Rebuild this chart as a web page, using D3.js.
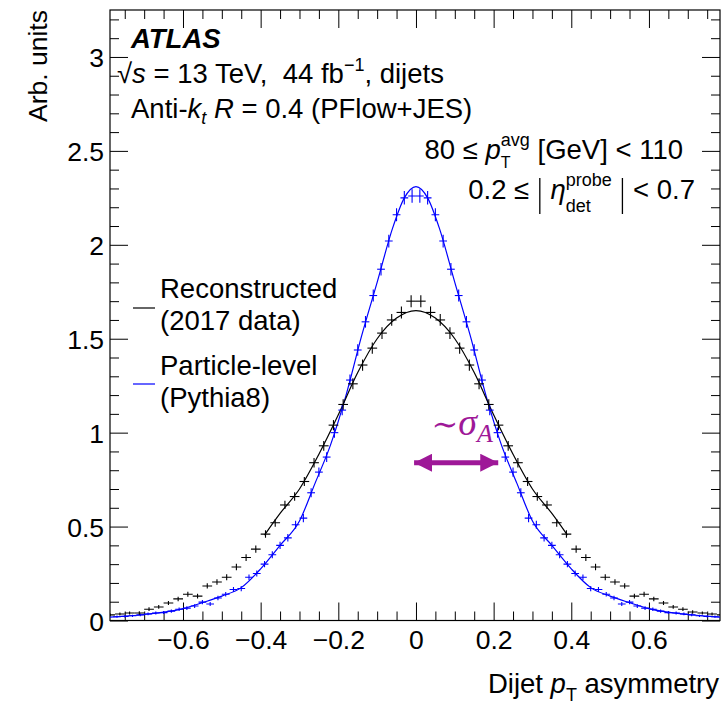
<!DOCTYPE html>
<html>
<head>
  <script src="https://d3js.org/d3.v7.min.js"></script>
  <style>
    body { margin: 0; background: #fff; }
    text { font-family: "Liberation Sans", Arial, Helvetica, sans-serif; fill: #000; white-space: pre; }
  </style>
</head>
<body>
  <div id="chart"></div>
  <script>
    // Reconstructed (2017 data): bin centres, values, vertical errors
    const recoBinWidth = 0.025;
    const recoX = [-0.7875,-0.7625,-0.7375,-0.7125,-0.6875,-0.6625,-0.6375,-0.6125,-0.5875,-0.5625,-0.5375,-0.5125,-0.4875,-0.4625,-0.4375,-0.4125,-0.3875,-0.3625,-0.3375,-0.3125,-0.2875,-0.2625,-0.2375,-0.2125,-0.1875,-0.1625,-0.1375,-0.1125,-0.0875,-0.0625,-0.0375,-0.0125,
      0.0125,0.0375,0.0625,0.0875,0.1125,0.1375,0.1625,0.1875,0.2125,0.2375,0.2625,0.2875,0.3125,0.3375,0.3625,0.3875,0.4125,0.4375,0.4625,0.4875,0.5125,0.5375,0.5625,0.5875,0.6125,0.6375,0.6625,0.6875,0.7125,0.7375,0.7625,0.7875];
    const recoY = [0.03,0.035,0.04,0.04,0.06,0.072,0.093,0.115,0.14,0.13,0.184,0.205,0.23,0.285,0.335,0.38,0.46,0.52,0.615,0.66,0.74,0.84,0.93,1.04,1.15,1.26,1.36,1.45,1.53,1.60,1.64,1.70,
      1.70,1.64,1.60,1.53,1.45,1.36,1.26,1.15,1.04,0.93,0.84,0.74,0.66,0.615,0.52,0.46,0.38,0.335,0.285,0.23,0.205,0.184,0.13,0.14,0.115,0.093,0.072,0.06,0.045,0.04,0.035,0.03];
    const recoErr = [0.007,0.008,0.008,0.009,0.010,0.010,0.011,0.012,0.013,0.013,0.014,0.015,0.016,0.017,0.018,0.019,0.020,0.021,0.022,0.023,0.024,0.025,0.026,0.027,0.028,0.029,0.030,0.030,0.031,0.031,0.032,0.032,
      0.032,0.032,0.031,0.031,0.030,0.030,0.029,0.028,0.027,0.026,0.025,0.024,0.023,0.022,0.021,0.020,0.019,0.018,0.017,0.016,0.015,0.014,0.013,0.013,0.012,0.011,0.010,0.010,0.009,0.008,0.008,0.007];

    // Particle-level (Pythia8)
    const truthBinWidth = 0.02;
    const truthX = [-0.77,-0.75,-0.73,-0.71,-0.69,-0.67,-0.65,-0.63,-0.61,-0.59,-0.57,-0.55,-0.53,-0.51,-0.49,-0.47,-0.45,-0.43,-0.41,-0.39,-0.37,-0.35,-0.33,-0.31,-0.29,-0.27,-0.25,-0.23,-0.21,-0.19,-0.17,-0.15,-0.13,-0.11,-0.09,-0.07,-0.05,-0.03,-0.01,
      0.01,0.03,0.05,0.07,0.09,0.11,0.13,0.15,0.17,0.19,0.21,0.23,0.25,0.27,0.29,0.31,0.33,0.35,0.37,0.39,0.41,0.43,0.45,0.47,0.49,0.51,0.53,0.55,0.57,0.59,0.61,0.63,0.65,0.67,0.69,0.71,0.73,0.75,0.77];
    const truthY = [0.02,0.022,0.025,0.03,0.035,0.04,0.042,0.05,0.06,0.066,0.077,0.098,0.088,0.12,0.14,0.165,0.17,0.23,0.25,0.30,0.35,0.40,0.44,0.51,0.545,0.68,0.79,0.87,1.00,1.12,1.28,1.44,1.59,1.73,1.87,2.02,2.16,2.25,2.26,
      2.26,2.25,2.16,2.02,1.87,1.73,1.59,1.44,1.28,1.12,1.00,0.87,0.79,0.68,0.545,0.51,0.44,0.40,0.35,0.30,0.25,0.23,0.17,0.165,0.14,0.12,0.088,0.098,0.077,0.066,0.06,0.05,0.042,0.04,0.035,0.03,0.025,0.022,0.02];
    const truthErr = [0.006,0.006,0.006,0.007,0.007,0.008,0.008,0.009,0.009,0.010,0.010,0.011,0.011,0.012,0.012,0.013,0.014,0.015,0.016,0.017,0.018,0.019,0.020,0.021,0.022,0.024,0.025,0.026,0.027,0.028,0.029,0.030,0.031,0.032,0.033,0.034,0.035,0.036,0.036,
      0.036,0.036,0.035,0.034,0.033,0.032,0.031,0.030,0.029,0.028,0.027,0.026,0.025,0.024,0.022,0.021,0.020,0.019,0.018,0.017,0.016,0.015,0.014,0.013,0.012,0.012,0.011,0.011,0.010,0.010,0.009,0.009,0.008,0.008,0.007,0.007,0.006,0.006,0.006];

    // Fit curves
    const recoFitX = [-0.39,-0.35,-0.3,-0.25,-0.2,-0.15,-0.1,-0.05,0,0.05,0.1,0.15,0.2,0.25,0.3,0.35,0.39];
    const recoFitY = [0.455,0.57,0.70,0.885,1.095,1.32,1.50,1.61,1.65,1.61,1.50,1.32,1.095,0.885,0.70,0.57,0.455];
    const truthFitX = [-0.788,-0.7,-0.6,-0.55,-0.5,-0.45,-0.4,-0.35,-0.3,-0.26,-0.22,-0.18,-0.14,-0.1,-0.06,-0.03,0,0.03,0.06,0.1,0.14,0.18,0.22,0.26,0.3,0.35,0.4,0.45,0.5,0.55,0.6,0.7,0.783];
    const truthFitY = [0.018,0.032,0.063,0.095,0.13,0.175,0.275,0.40,0.53,0.73,0.935,1.20,1.515,1.80,2.09,2.25,2.31,2.25,2.09,1.80,1.515,1.20,0.935,0.73,0.53,0.40,0.275,0.175,0.13,0.095,0.063,0.032,0.018];

    // Axes
    const xDomain = [-0.788, 0.783];
    const yDomain = [0, 3.25];
    const xTickValues = [-0.6, -0.4, -0.2, 0, 0.2, 0.4, 0.6];
    const xTickLabels = ["\u22120.6", "\u22120.4", "\u22120.2", "0", "0.2", "0.4", "0.6"];
    const yTickValues = [0, 0.5, 1, 1.5, 2, 2.5, 3];
    const yTickLabels = ["0", "0.5", "1", "1.5", "2", "2.5", "3"];
    const legendLabels = [["Reconstructed", "(2017 data)"], ["Particle-level", "(Pythia8)"]];
    const legendColors = ["#000", "#0000ff"];
    const arrowSpan = [-0.01, 0.217];
    const arrowLevel = 0.84;

    const W = 725, H = 711;
    const plot = { left: 110, right: 720, top: 10, bottom: 620.5 };
    const accent = "#9e1898";
    const fs = 27.5;

    const svg = d3.select("#chart").append("svg")
      .attr("width", W).attr("height", H)
      .style("background", "#fff");

    const x = d3.scaleLinear().domain(xDomain).range([plot.left, plot.right]);
    const y = d3.scaleLinear().domain(yDomain).range([plot.bottom, plot.top]);

    svg.append("clipPath").attr("id", "clip")
      .append("rect")
      .attr("x", plot.left).attr("y", plot.top)
      .attr("width", plot.right - plot.left).attr("height", plot.bottom - plot.top);

    const xMinor = d3.range(-0.75, 0.76, 0.05).filter(v => Math.abs(Math.round(v * 100) % 20) !== 0);
    const yMinor = d3.range(0.1, 3.25, 0.1).filter(v => Math.abs(Math.round(v * 10) % 5) !== 0);

    function tickAxis(axis, pos, values, size, labels, pad) {
      const g = svg.append("g")
        .attr("transform", pos)
        .call(axis.tickValues(values).tickSizeInner(-size).tickSizeOuter(0)
          .tickPadding(pad || 0)
          .tickFormat((d, i) => labels ? labels[i] : ""));
      g.select(".domain").remove();
      g.selectAll("line").attr("stroke", "#000").attr("stroke-width", 1);
      g.selectAll("text").style("font-size", "26.5px").attr("fill", "#000");
      return g;
    }

    // bottom / top
    tickAxis(d3.axisBottom(x), `translate(0,${plot.bottom})`, xMinor, 9);
    tickAxis(d3.axisBottom(x), `translate(0,${plot.bottom})`, xTickValues, 18, xTickLabels, 10);
    tickAxis(d3.axisTop(x), `translate(0,${plot.top})`, xMinor, 9);
    tickAxis(d3.axisTop(x), `translate(0,${plot.top})`, xTickValues, 18);
    // left / right
    tickAxis(d3.axisLeft(y), `translate(${plot.left},0)`, yMinor, 9);
    tickAxis(d3.axisLeft(y), `translate(${plot.left},0)`, yTickValues, 18, yTickLabels, 6)
      .selectAll("text").attr("dy", "0.36em");
    tickAxis(d3.axisRight(y), `translate(${plot.right},0)`, yMinor, 9);
    tickAxis(d3.axisRight(y), `translate(${plot.right},0)`, yTickValues, 18);

    svg.append("rect")
      .attr("x", plot.left).attr("y", plot.top)
      .attr("width", plot.right - plot.left).attr("height", plot.bottom - plot.top)
      .attr("fill", "none").attr("stroke", "#000").attr("stroke-width", 1.2);

    // data
    const data = svg.append("g").attr("clip-path", "url(#clip)");

    function crosses(xs, ys, es, bw, color) {
      const pts = xs.map((v, i) => ({ x: v, y: ys[i], e: es[i] }));
      const g = data.append("g").attr("stroke", color).attr("stroke-width", 1.1);
      g.selectAll(null).data(pts).join("line")
        .attr("x1", d => x(d.x - bw / 2)).attr("x2", d => x(d.x + bw / 2))
        .attr("y1", d => y(d.y)).attr("y2", d => y(d.y));
      g.selectAll(null).data(pts).join("line")
        .attr("x1", d => x(d.x)).attr("x2", d => x(d.x))
        .attr("y1", d => y(d.y - d.e)).attr("y2", d => y(d.y + d.e));
    }

    function fitLine(xs, ys, color) {
      const line = d3.line().x(d => x(d[0])).y(d => y(d[1])).curve(d3.curveMonotoneX);
      data.append("path")
        .datum(xs.map((v, i) => [v, ys[i]]))
        .attr("d", line)
        .attr("fill", "none").attr("stroke", color).attr("stroke-width", 1.2);
    }

    fitLine(truthFitX, truthFitY, legendColors[1]);
    fitLine(recoFitX, recoFitY, legendColors[0]);
    crosses(truthX, truthY, truthErr, truthBinWidth, legendColors[1]);
    crosses(recoX, recoY, recoErr, recoBinWidth, legendColors[0]);

    // rich text helper: segments laid out left to right,
    // "stack" puts a segment at the same x as the previous one, "bar" draws a thin |
    function rich(x0, y0, segs, anchor) {
      const g = svg.append("g");
      let cx = 0, prevStart = 0, prevEnd = 0;
      segs.forEach(s => {
        const start = s.stack ? prevStart : cx;
        let end;
        if (s.bar) {
          g.append("line")
            .attr("x1", start + s.bar[0] / 2).attr("x2", start + s.bar[0] / 2)
            .attr("y1", s.bar[1]).attr("y2", s.bar[2])
            .attr("stroke", "#000").attr("stroke-width", 1.3);
          end = start + s.bar[0];
        } else {
          const t = g.append("text")
            .attr("x", start).attr("y", s.dy || 0)
            .style("font-size", (s.size || fs) + "px")
            .style("font-style", s.it ? "italic" : "normal")
            .style("font-weight", s.bold ? "bold" : "normal")
            .text(s.t);
          if (s.family) t.style("font-family", s.family);
          if (s.color) t.attr("fill", s.color).style("fill", s.color);
          end = start + t.node().getComputedTextLength();
        }
        cx = s.stack ? Math.max(prevEnd, end) : end;
        prevStart = start; prevEnd = end;
      });
      const shift = anchor === "end" ? cx : 0;
      g.attr("transform", `translate(${x0 - shift},${y0})`);
      return g;
    }

    // axis titles
    svg.append("text")
      .attr("transform", `translate(47,${plot.top}) rotate(-90)`)
      .attr("text-anchor", "end")
      .style("font-size", "26.5px")
      .text("Arb. units");

    rich(719, 693, [
      { t: "Dijet " }, { t: "p", it: true }, { t: "T", size: 18, dy: 8 }, { t: " asymmetry" }
    ], "end");

    // labels
    rich(131, 48, [{ t: "ATLAS", bold: true, it: true }]);
    rich(117, 83, [
      { t: "\u221A" }, { t: "s", it: true }, { t: " = 13 TeV,  44 fb" },
      { t: "\u22121", size: 18, dy: -12 }, { t: ", dijets" }
    ]);
    rich(131, 118, [
      { t: "Anti-" }, { t: "k", it: true }, { t: "t", it: true, size: 18, dy: 6 },
      { t: " " }, { t: "R", it: true }, { t: " = 0.4 (PFlow+JES)" }
    ], "start");
    rich(683, 159, [
      { t: "80 \u2264 " }, { t: "p", it: true },
      { t: "avg", size: 18, dy: -13 }, { t: "T", size: 16, dy: 9, stack: true },
      { t: " [GeV] < 110" }
    ], "end");
    rich(695, 199, [
      { t: "0.2 \u2264 " }, { bar: [6, -21, 15] }, { t: " " },
      { t: "\u03B7", it: true },
      { t: "probe", size: 18, dy: -13 }, { t: "det", size: 18, dy: 13, stack: true },
      { t: " " }, { bar: [6, -21, 15] }, { t: " < 0.7" }
    ], "end");

    // legend
    const legend = svg.append("g");
    legendLabels.forEach((lines, i) => {
      const top = [298, 375][i];
      legend.append("line")
        .attr("x1", 133).attr("x2", 155)
        .attr("y1", [308, 384][i]).attr("y2", [308, 384][i])
        .attr("stroke", legendColors[i]).attr("stroke-width", 1.2);
      lines.forEach((txt, j) => {
        legend.append("text")
          .attr("x", 160).attr("y", top + j * 32)
          .style("font-size", fs + "px")
          .text(txt);
      });
    });

    // width annotation
    const defs = svg.append("defs");
    defs.append("marker").attr("id", "head")
      .attr("viewBox", "0 0 10 10").attr("refX", 10).attr("refY", 5)
      .attr("markerWidth", 3.6).attr("markerHeight", 3.6)
      .attr("markerUnits", "strokeWidth")
      .attr("orient", "auto-start-reverse")
      .append("path").attr("d", "M0,0 L10,5 L0,10 Z").attr("fill", accent);

    svg.append("line")
      .attr("x1", x(arrowSpan[0]) + 2).attr("x2", x(arrowSpan[1]) - 2)
      .attr("y1", y(arrowLevel)).attr("y2", y(arrowLevel))
      .attr("stroke", accent).attr("stroke-width", 5)
      .attr("marker-start", "url(#head)").attr("marker-end", "url(#head)");

    rich(x(0.04), y(0.985), [
      { t: "\u223C", size: 32, family: "'DejaVu Serif', serif", color: accent },
      { t: "\u03C3", size: 38, it: true, family: "'Liberation Serif', serif", color: accent },
      { t: "A", size: 26, it: true, dy: 7, family: "'Liberation Serif', serif", color: accent }
    ]);
  </script>
</body>
</html>
